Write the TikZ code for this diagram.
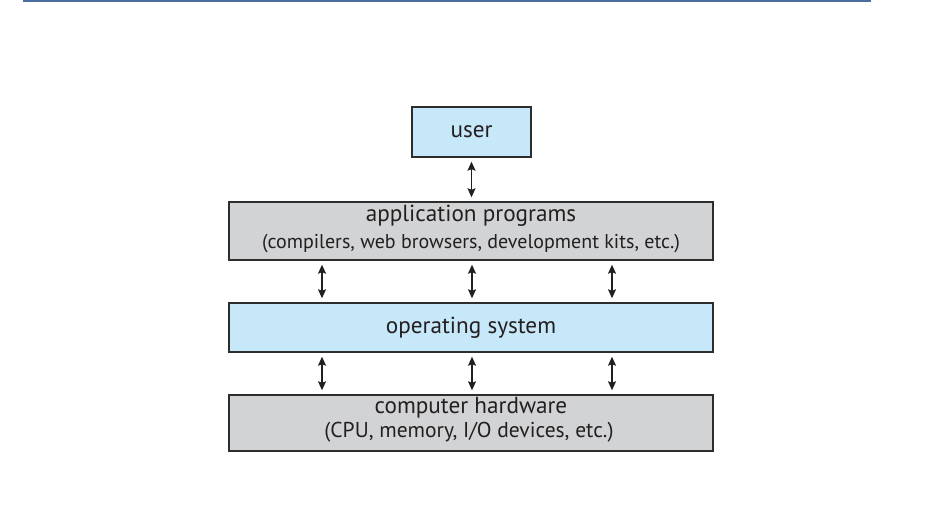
\documentclass[tikz,border=0pt]{standalone}
\usepackage{fontspec}
\setmainfont{PT Sans}
\usetikzlibrary{arrows.meta}
\definecolor{userblue}{RGB}{199,232,248}
\definecolor{layergray}{RGB}{209,211,212}
\definecolor{rulecol}{RGB}{74,110,160}
\definecolor{edgecol}{RGB}{45,45,45}
\definecolor{inkcol}{RGB}{35,31,32}
\begin{document}
\begin{tikzpicture}[x=1pt,y=-1pt,
  layer/.style={draw=edgecol, line width=1.4pt, inner sep=0pt},
  bluelayer/.style={layer, fill=userblue},
  graylayer/.style={layer, fill=layergray},
  maintext/.style={font=\fontsize{23.2}{26}\selectfont, text=inkcol, inner sep=0pt},
  subtext/.style={font=\fontsize{20}{22}\selectfont, text=inkcol, inner sep=0pt},
  biarrow/.style={line width=1.3pt, draw=inkcol,
    {Stealth[length=9pt,width=8pt,inset=1.5pt]}-{Stealth[length=9pt,width=8pt,inset=1.5pt]},
    shorten <=4pt, shorten >=4pt}]
\useasboundingbox (0,0) rectangle (933,516);
% header rule
\fill[rulecol] (23,0) rectangle (871,2.5);

% layers
\node[bluelayer, minimum width=119pt, minimum height=50pt] (user) at (471.5,132) {};
\node[graylayer, minimum width=484pt, minimum height=58pt] (app) at (471,231) {};
\node[bluelayer, minimum width=484pt, minimum height=49pt] (os) at (471,327.5) {};
\node[graylayer, minimum width=484pt, minimum height=56pt] (hw) at (471,423) {};

% labels
\node[maintext] (userlbl) at (user.center) {user};
\node[maintext] (applbl) at (471,216) {application programs};
\node[subtext] (appsub) at (471,244) {(compilers, web browsers, development kits, etc.)};
\node[maintext] (oslbl) at (os.center) {operating system};
\node[maintext] (hwlbl) at (471,408) {computer hardware};
\node[subtext, font=\fontsize{21.5}{24}\selectfont] (hwsub) at (469,432) {(CPU, memory, I/O devices, etc.)};

% connectors
\draw[biarrow] (user.south) -- (user.south |- app.north);
\foreach \dx in {-149,1,141}{
  \draw[biarrow] ([xshift=\dx pt]app.south) -- ([xshift=\dx pt]os.north);
  \draw[biarrow] ([xshift=\dx pt]os.south) -- ([xshift=\dx pt]hw.north);
}
\end{tikzpicture}
\end{document}
